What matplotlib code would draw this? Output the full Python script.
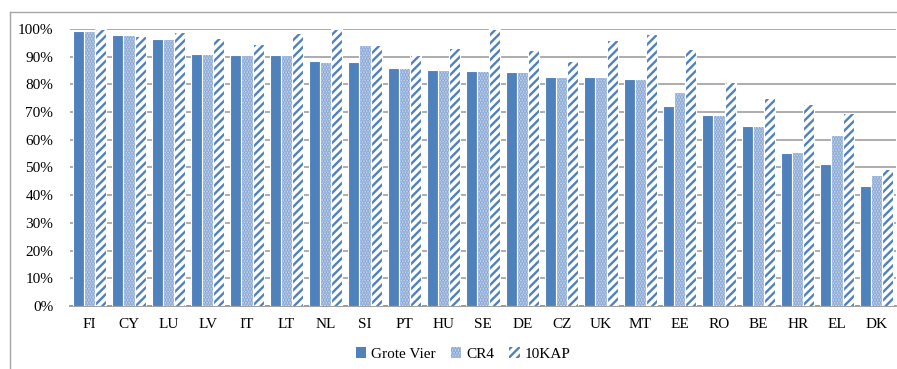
import matplotlib
matplotlib.use("Agg")
import matplotlib.pyplot as plt
from matplotlib.patches import Patch
from matplotlib.lines import Line2D
from matplotlib.ticker import FuncFormatter, MultipleLocator
import numpy as np

countries = ["FI", "CY", "LU", "LV", "IT", "LT", "NL", "SI", "PT", "HU", "SE",
             "DE", "CZ", "UK", "MT", "EE", "RO", "BE", "HR", "EL", "DK"]
grote_vier = [99.4, 97.7, 96.4, 91.0, 90.7, 90.6, 88.3, 88.1, 85.8, 85.3, 85.0,
              84.4, 82.8, 82.6, 81.8, 72.1, 69.1, 65.0, 55.4, 51.4, 43.2]
cr4 = [99.4, 97.7, 96.3, 91.0, 90.5, 90.5, 88.2, 94.2, 85.8, 85.3, 85.0,
       84.4, 82.8, 82.6, 81.8, 77.2, 69.0, 65.0, 55.6, 61.7, 47.4]
tien_kap = [100.0, 97.6, 98.9, 96.6, 94.7, 98.6, 100.0, 94.2, 90.6, 93.0, 100.0,
            92.5, 88.4, 96.0, 98.1, 92.7, 80.7, 75.0, 73.1, 69.6, 49.4]
series_names = ["Grote Vier", "CR4", "10KAP"]

blue = "#4F81BD"
dot_face = "#D3DFEF"
dot_color = "#7C9ED0"
plt.rcParams["font.family"] = ["Liberation Serif", "DejaVu Serif"]
plt.rcParams["hatch.linewidth"] = 1.7

fig = plt.figure(figsize=(8.97, 3.69), dpi=100)
ax = fig.add_axes([70 / 897, 1 - 306 / 369, (896 - 70) / 897, (306 - 29) / 369])

x = np.arange(len(countries))
w = 0.28
ax.bar(x - w, np.array(grote_vier) / 100, w, color=blue, edgecolor="white",
       linewidth=0.8, zorder=3)
ax.bar(x, np.array(cr4) / 100, w, facecolor=dot_face, edgecolor=dot_color,
       hatch="......", linewidth=0, zorder=3)
ax.bar(x, np.array(cr4) / 100, w, facecolor="none", edgecolor="white",
       linewidth=0.8, zorder=4)
ax.bar(x + w, np.array(tien_kap) / 100, w, facecolor="white", edgecolor=blue,
       hatch="////", linewidth=0, zorder=3)
ax.bar(x + w, np.array(tien_kap) / 100, w, facecolor="none", edgecolor="white",
       linewidth=0.8, zorder=4)

ax.set_xlim(-0.5, len(countries) - 0.5)
ax.set_ylim(0, 1.0)
ax.yaxis.set_major_locator(MultipleLocator(0.1))
ax.yaxis.set_major_formatter(FuncFormatter(lambda v, p: f"{v * 100:.0f}%"))
ax.grid(axis="y", color="#969696", linewidth=1.1, zorder=0)
ax.set_axisbelow(True)
for s in ["top", "right", "left"]:
    ax.spines[s].set_visible(False)
ax.spines["bottom"].set_color("#969696")
ax.spines["bottom"].set_linewidth(1.3)
ax.set_xticks(x)
ax.set_xticklabels(countries)
ax.tick_params(axis="both", length=0, labelsize=11)
ax.tick_params(axis="y", pad=12)
ax.tick_params(axis="x", pad=9)

# chart-area border (left and top edges)
fig.add_artist(Line2D([9.5 / 897, 9.5 / 897], [0, 1 - 12 / 369],
                      transform=fig.transFigure, color="#A6A6A6", linewidth=1))
fig.add_artist(Line2D([9.5 / 897, 1], [1 - 12 / 369, 1 - 12 / 369],
                      transform=fig.transFigure, color="#A6A6A6", linewidth=1))

handles = [Patch(facecolor=blue, edgecolor="none"),
           Patch(facecolor=dot_face, edgecolor=dot_color, hatch="......", linewidth=0),
           Patch(facecolor="white", edgecolor=blue, hatch="////", linewidth=0)]
fig.legend(handles, series_names, loc="center", bbox_to_anchor=(463 / 897, 1 - 354 / 369),
           ncol=3, frameon=False, fontsize=11, handlelength=0.7, handleheight=0.7,
           handletextpad=0.3, columnspacing=1.0)

fig.savefig("out.png", dpi=100)
